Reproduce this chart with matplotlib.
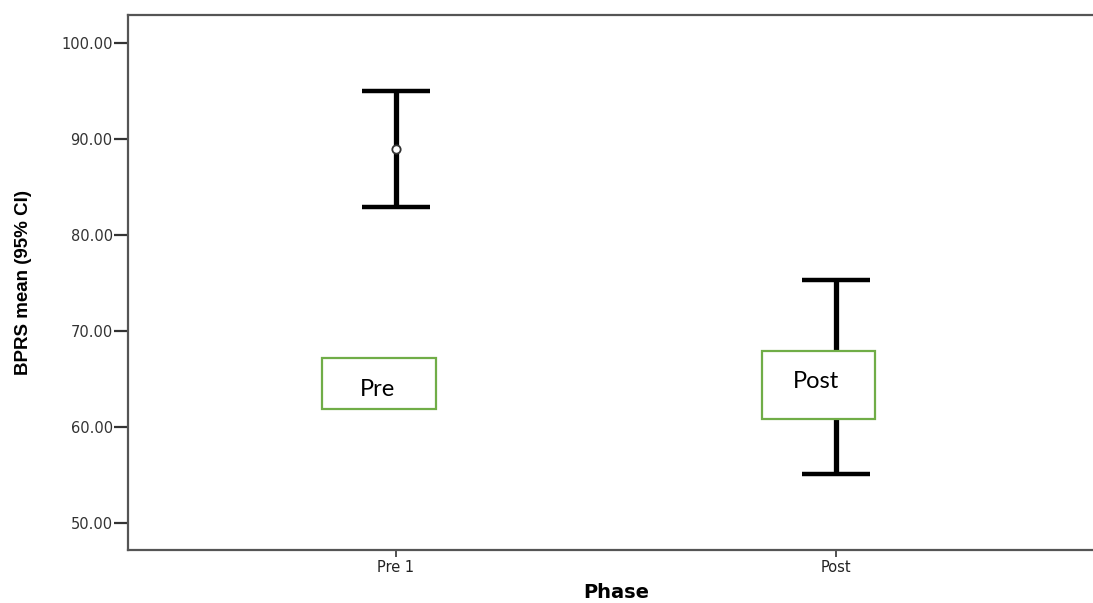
import matplotlib
matplotlib.use("Agg")
import matplotlib.pyplot as plt
from matplotlib.patches import Rectangle
from matplotlib.ticker import FormatStrFormatter

# data
phases = ['Pre 1', 'Post']
means = [88.96, 65.2]
ci_low = [82.9, 55.1]
ci_high = [95.0, 75.3]
y_ticks = [50, 60, 70, 80, 90, 100]
box_labels = ['Pre', 'Post']

fig = plt.figure(figsize=(10.93, 6.03), dpi=100)
ax = fig.add_axes([128 / 1093, 53 / 603, 976 / 1093, 535 / 603])

x = list(range(len(phases)))
err_lo = [m - l for m, l in zip(means, ci_low)]
err_hi = [h - m for m, h in zip(means, ci_high)]
ax.errorbar(x, means, yerr=[err_lo, err_hi], fmt='none',
            ecolor='black', elinewidth=3.8, capsize=24.5, capthick=3.2,
            zorder=3)
ax.plot(x, means, 'o', markersize=6, markerfacecolor='white',
        markeredgecolor='#333333', markeredgewidth=1.3, zorder=4)

ax.set_xlim(-0.609, 1.609)
ax.set_ylim(47.2, 102.9)
ax.set_yticks(y_ticks)
ax.yaxis.set_major_formatter(FormatStrFormatter('%.2f'))
ax.set_xticks(x)
ax.set_xticklabels(phases)

for s in ['top', 'left', 'bottom']:
    ax.spines[s].set_color('#555555')
    ax.spines[s].set_linewidth(1.6)
ax.spines['right'].set_visible(False)

ax.tick_params(axis='y', length=10, width=1.6, color='#333333', pad=1,
               labelsize=10.5, labelcolor='#333333')
ax.tick_params(axis='x', length=5, width=1.2, color='#333333', pad=2,
               labelsize=10.5, labelcolor='#222222')

ax.set_ylabel('BPRS mean (95% CI)', fontsize=13.5, fontweight='bold',
              family=['Liberation Sans', 'DejaVu Sans'], labelpad=21)
ax.set_xlabel('Phase', fontsize=14, fontweight='bold', labelpad=6)

# green text boxes laid over the chart
boxes = [(-0.168, 61.88, 0.259, 5.31), (0.832, 60.83, 0.257, 7.09)]
text_pos = [(-0.043, 63.9), (0.955, 64.7)]
for (bx, by, bw, bh), (tx, ty), lab in zip(boxes, text_pos, box_labels):
    ax.add_patch(Rectangle((bx, by), bw, bh, facecolor='white',
                           edgecolor='#70AD47', linewidth=1.6, zorder=5))
    ax.text(tx, ty, lab, fontsize=17, family=['Lato', 'DejaVu Sans'],
            ha='center', va='center', color='black', zorder=6)

fig.savefig('out.png', dpi=100)
